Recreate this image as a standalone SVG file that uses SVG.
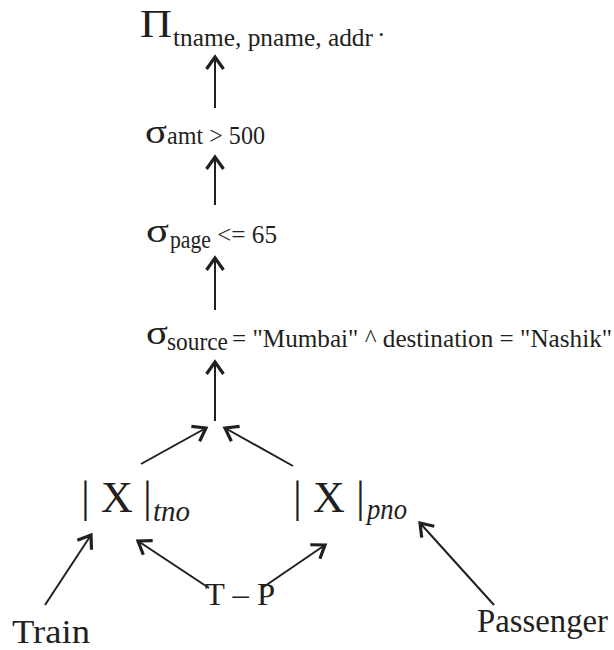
<svg xmlns="http://www.w3.org/2000/svg" width="614" height="650" viewBox="0 0 614 650">
<defs>
<marker id="ah" markerUnits="userSpaceOnUse" markerWidth="30" markerHeight="30" refX="0" refY="0" viewBox="-15 -15 30 30" orient="auto" overflow="visible">
<path d="M -12,-8.5 L 0,0 L -12,8.5" fill="none" stroke="#231f20" stroke-width="3.2"/>
</marker>
</defs>
<style>
text { font-family: "Liberation Serif", "Times New Roman", serif; fill: #231f20; }
.it { font-style: italic; }
.c { stroke: #231f20; stroke-width: 2; fill: none; marker-end: url(#ah); }
</style>
<rect width="614" height="650" fill="#ffffff"/>
<g id="project">
<text x="140" y="37" font-size="40" textLength="32" lengthAdjust="spacingAndGlyphs">Π</text>
<text x="173" y="46" font-size="26" textLength="200" lengthAdjust="spacingAndGlyphs">tname, pname, addr</text>
<text x="378" y="36" font-size="26">.</text>
</g>
<g id="select-amt">
<text x="145" y="143" font-size="34" textLength="22" lengthAdjust="spacingAndGlyphs">σ</text>
<text x="167" y="144" font-size="25" textLength="98" lengthAdjust="spacingAndGlyphs">amt &gt; 500</text>
</g>
<g id="select-page">
<text x="146" y="242" font-size="34" textLength="23" lengthAdjust="spacingAndGlyphs">σ</text>
<text x="170" y="248" font-size="25" textLength="41" lengthAdjust="spacingAndGlyphs">page</text>
<text x="217" y="243" font-size="25" textLength="60" lengthAdjust="spacingAndGlyphs">&lt;= 65</text>
</g>
<g id="select-source">
<text x="146" y="344" font-size="34" textLength="22" lengthAdjust="spacingAndGlyphs">σ</text>
<text x="167" y="350" font-size="25" textLength="61" lengthAdjust="spacingAndGlyphs">source</text>
<text x="232" y="347" font-size="25" textLength="380" lengthAdjust="spacingAndGlyphs">= "Mumbai" ^ destination = "Nashik"</text>
</g>
<g id="join-tno">
<text x="81" y="512" font-size="44">|</text>
<text x="101" y="512" font-size="44">X</text>
<text x="143" y="512" font-size="44">|</text>
<text x="153" y="521" font-size="30" class="it" textLength="37" lengthAdjust="spacingAndGlyphs">tno</text>
</g>
<g id="join-pno">
<text x="293" y="512" font-size="44">|</text>
<text x="313" y="512" font-size="44">X</text>
<text x="356" y="512" font-size="44">|</text>
<text x="367" y="519" font-size="30" class="it" textLength="40" lengthAdjust="spacingAndGlyphs">pno</text>
</g>
<g id="tp">
<text x="205" y="605" font-size="32" textLength="70" lengthAdjust="spacingAndGlyphs">T – P</text>
</g>
<g id="train">
<text x="12" y="643" font-size="33" textLength="78" lengthAdjust="spacingAndGlyphs">Train</text>
</g>
<g id="passenger">
<text x="477" y="632" font-size="33" textLength="131" lengthAdjust="spacingAndGlyphs">Passenger</text>
</g>
<g id="connectors">
<line class="c" x1="215" y1="108" x2="215" y2="57"/>
<line class="c" x1="215" y1="205" x2="215" y2="157"/>
<line class="c" x1="215" y1="310" x2="215" y2="258"/>
<line class="c" x1="215" y1="421" x2="215" y2="362"/>
<line class="c" x1="141" y1="464" x2="206" y2="428"/>
<line class="c" x1="293" y1="466" x2="225" y2="428"/>
<line class="c" x1="45" y1="605" x2="91" y2="535"/>
<line class="c" x1="209" y1="588" x2="138" y2="541"/>
<line class="c" x1="262" y1="588" x2="325" y2="545"/>
<line class="c" x1="494" y1="605" x2="420" y2="523"/>
</g>
</svg>
